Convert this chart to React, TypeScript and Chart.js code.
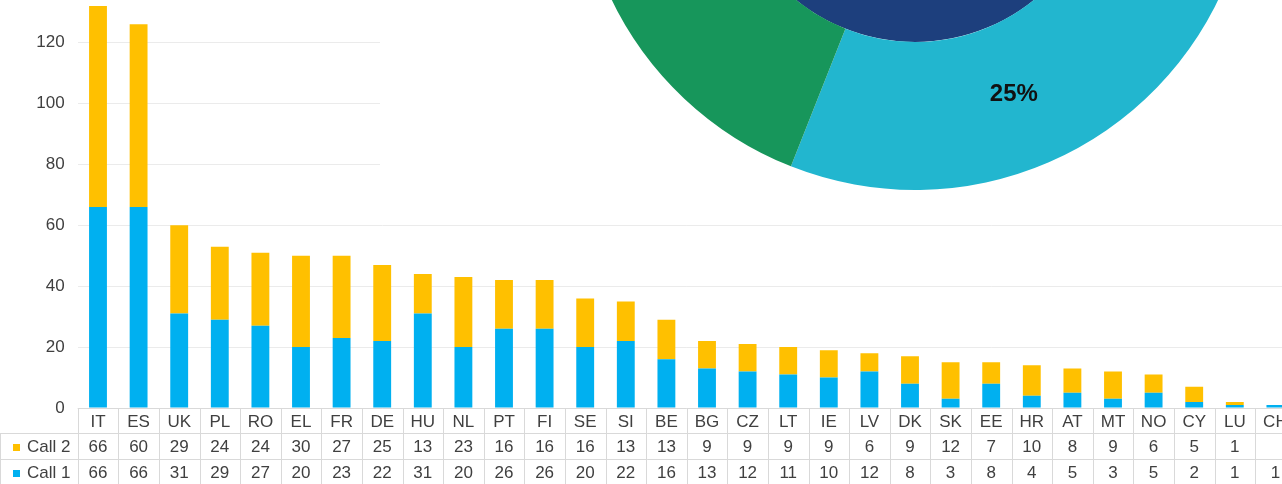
import React, { useEffect, useRef } from 'react';
import { Chart, registerables } from 'chart.js';

Chart.register(...registerables);

// ---- data ----
const categories = ['IT', 'ES', 'UK', 'PL', 'RO', 'EL', 'FR', 'DE', 'HU', 'NL', 'PT', 'FI', 'SE', 'SI', 'BE', 'BG', 'CZ', 'LT', 'IE', 'LV', 'DK', 'SK', 'EE', 'HR', 'AT', 'MT', 'NO', 'CY', 'LU', 'CH'];
const call2Values: (number | null)[] = [66, 60, 29, 24, 24, 30, 27, 25, 13, 23, 16, 16, 16, 13, 13, 9, 9, 9, 9, 6, 9, 12, 7, 10, 8, 9, 6, 5, 1, null];
const call1Values: (number | null)[] = [66, 66, 31, 29, 27, 20, 23, 22, 31, 20, 26, 26, 20, 22, 16, 13, 12, 11, 10, 12, 8, 3, 8, 4, 5, 3, 5, 2, 1, 1];
const yTickStep = 20;
const yTickTop = 120;
const yAxisMax = 134;

const shareLabels = ['Share A', 'Share B', 'Share C', 'Share D'];
const shareValues = [31, 25, 24, 20];
const shareColors = ['#8cc63f', '#22b6cf', '#17965b', '#f5a623'];
const innerLabels = ['Total'];
const innerValues = [100];
const innerColors = ['#1d3f7d'];

const FONT = '"Liberation Sans", Arial, sans-serif';
const TEXT = '#404040';
const BORDER = '#d9d9d9';
const ORANGE = '#FFC000';
const BLUE = '#00B0F0';

const tablePlugin = {
  id: 'dataTable',
  afterDraw(chart: any) {
    const { ctx, chartArea } = chart;
    const labels: string[] = chart.data.labels;
    const n = labels.length;
    const x = chart.scales.x;
    const colW = (chartArea.right - chartArea.left) / n;
    const y0 = Math.round(chartArea.bottom) + 0.5;
    const y1 = y0 + 25;
    const y2 = y1 + 26;
    const y3 = y2 + 26;
    ctx.save();
    ctx.strokeStyle = BORDER;
    ctx.lineWidth = 1;
    ctx.beginPath();
    ctx.moveTo(chartArea.left, y0);
    ctx.lineTo(chartArea.right, y0);
    [y1, y2, y3].forEach((yy) => {
      ctx.moveTo(0, yy);
      ctx.lineTo(chartArea.right, yy);
    });
    for (let i = 0; i <= n; i++) {
      const xx = Math.round(chartArea.left + i * colW) + 0.5;
      ctx.moveTo(xx, y0);
      ctx.lineTo(xx, y3);
    }
    ctx.moveTo(0.5, y1);
    ctx.lineTo(0.5, y3);
    ctx.stroke();

    ctx.fillStyle = TEXT;
    ctx.font = `17px ${FONT}`;
    ctx.textAlign = 'center';
    ctx.textBaseline = 'middle';
    const rows = [
      { y: (y0 + y1) / 2, vals: labels },
      { y: (y1 + y2) / 2, vals: chart.data.datasets[1].data },
      { y: (y2 + y3) / 2, vals: chart.data.datasets[0].data },
    ];
    rows.forEach((r) => {
      for (let i = 0; i < n; i++) {
        const v = r.vals[i];
        if (v === null || v === undefined) continue;
        ctx.fillText(String(v), x.getPixelForValue(i), r.y + 1);
      }
    });
    const legendRows = [
      { y: (y1 + y2) / 2, ds: chart.data.datasets[1] },
      { y: (y2 + y3) / 2, ds: chart.data.datasets[0] },
    ];
    ctx.textAlign = 'left';
    legendRows.forEach((r) => {
      ctx.fillStyle = r.ds.backgroundColor;
      ctx.fillRect(13, Math.round(r.y) - 3, 7, 7);
      ctx.fillStyle = TEXT;
      ctx.fillText(r.ds.label, 27, r.y + 1);
    });
    ctx.restore();
  },
};

const whiteBg = {
  id: 'whiteBg',
  beforeDraw(chart: any) {
    const { ctx, width, height } = chart;
    ctx.save();
    ctx.fillStyle = '#ffffff';
    ctx.fillRect(0, 0, width, height);
    ctx.restore();
  },
};

const pctLabels = {
  id: 'pctLabels',
  afterDatasetsDraw(chart: any) {
    const { ctx } = chart;
    const meta = chart.getDatasetMeta(0);
    const data: number[] = chart.data.datasets[0].data;
    const total = data.reduce((a, b) => a + b, 0);
    ctx.save();
    ctx.fillStyle = '#111111';
    ctx.font = `bold 24px ${FONT}`;
    ctx.textAlign = 'center';
    ctx.textBaseline = 'middle';
    meta.data.forEach((arc: any, i: number) => {
      const p = arc.getProps(['x', 'y', 'startAngle', 'endAngle', 'innerRadius', 'outerRadius'], true);
      const mid = (p.startAngle + p.endAngle) / 2 + 0.02;
      const r = (p.innerRadius + p.outerRadius) / 2 - 2;
      const px = p.x + Math.cos(mid) * r;
      const py = p.y + Math.sin(mid) * r;
      ctx.fillText(`${Math.round((data[i] / total) * 100)}%`, px, py);
    });
    ctx.restore();
  },
};

export default function App() {
  const barRef = useRef<HTMLCanvasElement>(null);
  const pieRef = useRef<HTMLCanvasElement>(null);

  useEffect(() => {
    document.body.style.margin = '0';
    document.body.style.overflow = 'hidden';
    const bar = new Chart(barRef.current!, {
      type: 'bar',
      data: {
        labels: categories,
        datasets: [
          { label: 'Call 1', data: call1Values, backgroundColor: BLUE, borderWidth: 0 },
          { label: 'Call 2', data: call2Values, backgroundColor: ORANGE, borderWidth: 0 },
        ],
      },
      options: {
        responsive: false,
        animation: false,
        layout: { padding: { left: 0, right: 4.3, top: 0, bottom: 76 } },
        datasets: { bar: { categoryPercentage: 1, barPercentage: 0.44 } },
        plugins: { legend: { display: false }, tooltip: { enabled: false } },
        scales: {
          x: { stacked: true, display: false },
          y: {
            stacked: true,
            min: 0,
            max: yAxisMax,
            border: { display: false },
            grid: { color: '#ebebeb', drawTicks: false },
            ticks: {
              stepSize: yTickStep,
              padding: 13,
              color: TEXT,
              font: { family: FONT, size: 17 },
            },
            afterBuildTicks: (scale: any) => {
              scale.ticks = scale.ticks.filter((t: any) => t.value <= yTickTop);
            },
            afterFit: (scale: any) => {
              scale.width = 77.7;
              scale.paddingTop = 0;
              scale.paddingBottom = 0;
            },
          },
        },
      },
      plugins: [tablePlugin],
    });

    const pie = new Chart(pieRef.current!, {
      type: 'doughnut',
      data: {
        labels: shareLabels,
        datasets: [
          { label: 'Outer', data: shareValues, backgroundColor: shareColors, borderWidth: 0, weight: 148 },
          { label: 'Inner', data: innerValues, backgroundColor: innerColors, borderWidth: 0, weight: 189 },
        ],
      },
      options: {
        responsive: false,
        animation: false,
        cutout: 0,
        layout: { padding: { left: 198, right: 30, top: 0, bottom: 15 } },
        plugins: { legend: { display: false }, tooltip: { enabled: false } },
      },
      plugins: [whiteBg, pctLabels],
    });

    return () => {
      bar.destroy();
      pie.destroy();
    };
  }, []);

  return (
    <div style={{ position: 'relative', width: 1282, height: 484, overflow: 'hidden' }}>
      <canvas ref={barRef} width={1300} height={484} style={{ position: 'absolute', left: 0, top: 0, width: 1300, height: 484 }} />
      <canvas ref={pieRef} width={902} height={689} style={{ position: 'absolute', left: 380, top: -484, width: 902, height: 689 }} />
    </div>
  );
}
